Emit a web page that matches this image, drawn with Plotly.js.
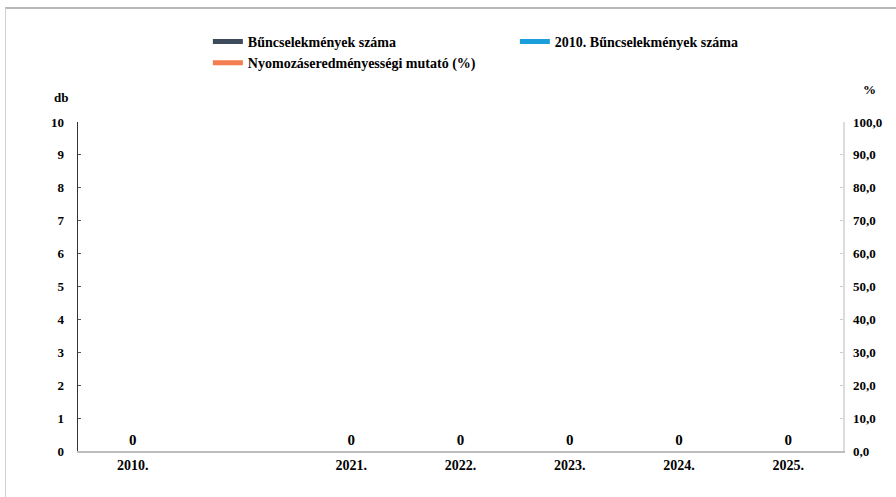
<!DOCTYPE html>
<html>
<head>
<meta charset="utf-8">
<script src="https://cdn.plot.ly/plotly-3.0.1.min.js"></script>
<style>
  html, body { margin: 0; padding: 0; background: #fff; }
  #wrap { position: relative; width: 896px; height: 497px; }
  #chart { width: 896px; height: 497px; }
  #frame { position: absolute; left: 5px; top: 7px; right: 0; bottom: 0;
           border-top: 2px solid #b8b8b8; border-left: 1px solid #d0d0d0; pointer-events: none; }
</style>
</head>
<body>
<div id="wrap"><div id="chart"></div><div id="frame"></div></div>
<script>
const categories = ["2010.", " ", "2021.", "2022.", "2023.", "2024.", "2025."];
const crimeCounts = [0, null, 0, 0, 0, 0, 0];
const crimeLabels = ["0", "", "0", "0", "0", "0", "0"];
const crime2010 = [null, null, null, null, null, null, null];
const clearanceRate = [null, null, null, null, null, null, null];
const seriesNames = ["Bűncselekmények száma", "2010. Bűncselekmények száma", "Nyomozáseredményességi mutató (%)"];
const leftTicks = [0,1,2,3,4,5,6,7,8,9,10];
const rightTicks = [0,10,20,30,40,50,60,70,80,90,100];

const font = "Liberation Serif";

const traces = [
  {
    type: "bar", x: categories, y: crimeCounts, text: crimeLabels,
    textposition: "outside", cliponaxis: false,
    textfont: {family: font, size: 15, color: "#000", weight: "bold"},
    marker: {color: "#3d4b5c"}, showlegend: false, hoverinfo: "skip"
  },
  {
    type: "scatter", mode: "lines", x: categories, y: crimeCounts.map(() => null),
    name: "<b>" + seriesNames[0] + "</b>", line: {color: "#3d4b5c", width: 5}
  },
  {
    type: "scatter", mode: "lines", x: categories, y: crime2010,
    name: "<b>" + seriesNames[1] + "</b>", line: {color: "#1a9fdc", width: 5}
  },
  {
    type: "scatter", mode: "lines", x: categories, y: clearanceRate, yaxis: "y2",
    name: "<b>" + seriesNames[2] + "</b>", line: {color: "#f47c4e", width: 5}
  }
];

const layout = {
  width: 896, height: 497,
  margin: {l: 78, r: 53, t: 122, b: 46},
  paper_bgcolor: "#fff", plot_bgcolor: "#fff",
  separators: ",.",
  font: {family: font, size: 13, color: "#000"},
  showlegend: true,
  legend: {
    orientation: "h", xref: "container", yref: "container",
    x: 0.232, xanchor: "left", y: 0.948, yanchor: "top",
    entrywidth: 262, itemwidth: 30, tracegroupgap: 0,
    font: {family: font, size: 14, color: "#000"}, bgcolor: "rgba(0,0,0,0)"
  },
  xaxis: {
    type: "category", categoryorder: "array", categoryarray: categories,
    showgrid: false, zeroline: false, showline: true, linecolor: "#bdbdbd", linewidth: 2,
    ticks: "", tickfont: {family: font, size: 14, weight: "bold"}
  },
  yaxis: {
    range: [0, 10], tickvals: leftTicks, showgrid: false, zeroline: false,
    showline: true, linecolor: "#333", linewidth: 1.5,
    ticks: "inside", ticklen: 3, tickcolor: "#555", ticklabelstandoff: 10,
    tickfont: {family: font, size: 13, weight: "bold"}
  },
  yaxis2: {
    overlaying: "y", side: "right", range: [0, 100], tickvals: rightTicks,
    tickformat: ".1f", showgrid: false, zeroline: false,
    showline: true, linecolor: "#dcdcdc", linewidth: 1.5,
    ticks: "inside", ticklen: 3, tickcolor: "#ccc", ticklabelstandoff: 6,
    tickfont: {family: font, size: 13, weight: "bold"}
  },
  annotations: [
    {text: "<b>db</b>", xref: "paper", yref: "paper", x: -0.01, y: 1.045, xanchor: "right", yanchor: "bottom", showarrow: false, font: {family: font, size: 13}},
    {text: "<b>%</b>", xref: "paper", yref: "paper", x: 1.035, y: 1.07, xanchor: "center", yanchor: "bottom", showarrow: false, font: {family: font, size: 13}}
  ]
};

Plotly.newPlot("chart", traces, layout, {displayModeBar: false, staticPlot: true});
</script>
</body>
</html>
